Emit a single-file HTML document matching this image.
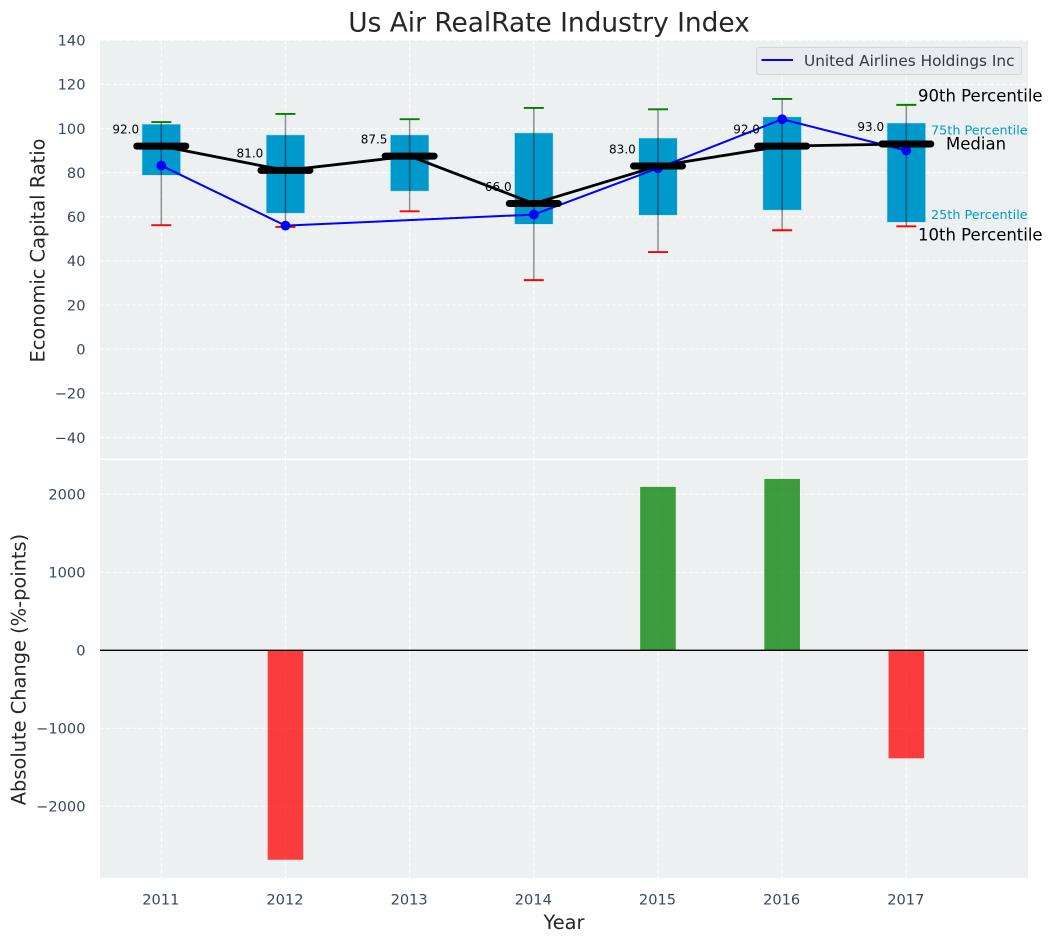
<!DOCTYPE html>
<html>
<head>
<meta charset="utf-8">
<title>Us Air RealRate Industry Index</title>
<style>
html,body{margin:0;padding:0;background:#fff;}
svg{display:block;font-family:"DejaVu Sans","Liberation Sans",sans-serif;}
</style>
</head>
<body>
<svg id="chart" xmlns="http://www.w3.org/2000/svg" width="1053" height="942" viewBox="0 0 1053 942"></svg>
<script>
const years = [2011, 2012, 2013, 2014, 2015, 2016, 2017];
const p90 = [102.9, 106.6, 104.2, 109.3, 108.7, 113.4, 110.7];
const p75 = [102, 97.1, 97.1, 98, 95.7, 105.3, 102.5];
const medians = [92, 81, 87.5, 66, 83, 92, 93];
const p25 = [78.8, 61.6, 71.6, 56.6, 60.7, 63, 57.5];
const p10 = [56.2, 55.4, 62.5, 31.3, 44, 53.9, 55.7];
const company = [83.2, 56, null, 61, 82, 104.2, 90];
const changes = [null, -2685, null, null, 2095, 2197, -1385];
const topTicks = [140, 120, 100, 80, 60, 40, 20, 0, -20, -40];
const bottomTicks = [2000, 1000, 0, -1000, -2000];
const seriesName = 'United Airlines Holdings Inc';

const svg = document.getElementById('chart');
const NS = 'http://www.w3.org/2000/svg';
const L = 100, R = 1028;
const T1 = 40, B1 = 458.5, T2 = 460, B2 = 878;

function xs(year) { return 161.3 + (year - 2011) * 124.17; }
function y1(v) { return 349.2 - v * 2.207; }
function y2(v) { return 650.3 - v * 0.078; }

function mk(tag, attrs) {
  const el = document.createElementNS(NS, tag);
  for (const k in attrs) el.setAttribute(k, attrs[k]);
  return el;
}
function txt(el, s) { el.textContent = s; return el; }
function fmtTick(v) { return v < 0 ? '\u2212' + Math.abs(v) : String(v); }

/* panels */
const panelTop = mk('rect', {x: L, y: T1, width: R - L, height: B1 - T1, fill: '#ecf0f1'});


svg.appendChild(panelTop);

const panelBottom = mk('rect', {x: L, y: T2, width: R - L, height: B2 - T2, fill: '#ecf0f1'});


svg.appendChild(panelBottom);

const gridStyle = {stroke: '#ffffff', 'stroke-width': 1.2, 'stroke-dasharray': '4.4 2', 'stroke-opacity': 0.85};

/* vertical grid */
years.forEach(function (yr) {
  [[T1, B1], [T2, B2]].forEach(function (range) {
    const g = mk('line', Object.assign({x1: xs(yr), x2: xs(yr), y1: range[0], y2: range[1]}, gridStyle));
    
    
    svg.appendChild(g);
  });
  const t = txt(mk('text', {x: xs(yr) - 0.5, y: 904.5, 'text-anchor': 'middle', 'font-size': 14.6, fill: '#34495e'}), String(yr));
  
  
  svg.appendChild(t);
});

/* top grid + ticks */
topTicks.forEach(function (v) {
  const g = mk('line', Object.assign({x1: L, x2: R, y1: y1(v), y2: y1(v)}, gridStyle));
  
  
  svg.appendChild(g);
  const t = txt(mk('text', {x: 85.5, y: y1(v) + 5.3, 'text-anchor': 'end', 'font-size': 14.6, fill: '#34495e'}), fmtTick(v));
  
  
  svg.appendChild(t);
});

/* bottom grid + ticks */
bottomTicks.forEach(function (v) {
  const g = mk('line', Object.assign({x1: L, x2: R, y1: y2(v), y2: y2(v)}, gridStyle));
  
  
  svg.appendChild(g);
  const t = txt(mk('text', {x: 85.5, y: y2(v) + 5.3, 'text-anchor': 'end', 'font-size': 14.6, fill: '#34495e'}), fmtTick(v));
  
  
  svg.appendChild(t);
});

/* boxes */
years.forEach(function (yr, i) {
  const box = mk('rect', {x: xs(yr) - 19.3, y: y1(p75[i]), width: 38.6, height: y1(p25[i]) - y1(p75[i]), fill: '#0099cc', stroke: '#bfe6f2', 'stroke-width': 0.6});
  
  
  svg.appendChild(box);
});

/* whiskers + caps */
years.forEach(function (yr, i) {
  const w = mk('line', {x1: xs(yr), x2: xs(yr), y1: y1(p90[i]), y2: y1(p10[i]), stroke: '#000', 'stroke-opacity': 0.42, 'stroke-width': 1.5});
  
  
  svg.appendChild(w);
  const c1 = mk('line', {x1: xs(yr) - 10, x2: xs(yr) + 10, y1: y1(p90[i]), y2: y1(p90[i]), stroke: '#008000', 'stroke-width': 1.9});
  
  
  svg.appendChild(c1);
  const c2 = mk('line', {x1: xs(yr) - 10, x2: xs(yr) + 10, y1: y1(p10[i]), y2: y1(p10[i]), stroke: '#ff0000', 'stroke-width': 1.9});
  
  
  svg.appendChild(c2);
});

/* company line */
const companyPts = years.map(function (yr, i) {
  return company[i] === null ? null : xs(yr) + ',' + y1(company[i]);
}).filter(Boolean).join(' ');
const companyLine = mk('polyline', {points: companyPts, fill: 'none', stroke: '#0000ff', 'stroke-width': 2});


svg.appendChild(companyLine);

years.forEach(function (yr, i) {
  if (company[i] === null) return;
  const p = mk('circle', {cx: xs(yr), cy: y1(company[i]), r: 4.9, fill: '#0000ff'});
  
  
  svg.appendChild(p);
});

/* median line + bars */
const medianLine = mk('polyline', {points: years.map(function (yr, i) { return xs(yr) + ',' + y1(medians[i]); }).join(' '), fill: 'none', stroke: '#000', 'stroke-width': 2.8});


svg.appendChild(medianLine);

years.forEach(function (yr, i) {
  const m = mk('line', {x1: xs(yr) - 24.5, x2: xs(yr) + 24.5, y1: y1(medians[i]), y2: y1(medians[i]), stroke: '#000', 'stroke-width': 7, 'stroke-linecap': 'round'});
  
  
  svg.appendChild(m);
  const t = txt(mk('text', {x: xs(yr) - 22.2, y: y1(medians[i]) - 12.7, 'text-anchor': 'end', 'font-size': 12, fill: '#000'}), medians[i].toFixed(1));
  
  
  svg.appendChild(t);
});

/* percentile annotations, anchored to the last year */
const last = years.length - 1;
const lastX = xs(years[last]);

const a90 = txt(mk('text', {x: lastX + 11.7, y: y1(p90[last]) - 3.2, 'font-size': 16.5, fill: '#000'}), '90th Percentile');


svg.appendChild(a90);

const a75 = txt(mk('text', {x: lastX + 24.7, y: y1(p75[last]) + 11.7, 'font-size': 12.8, fill: '#0099cc'}), '75th Percentile');


svg.appendChild(a75);

const aMed = txt(mk('text', {x: lastX + 39.7, y: y1(medians[last]) + 5.8, 'font-size': 16.5, fill: '#000'}), 'Median');


svg.appendChild(aMed);

const a25 = txt(mk('text', {x: lastX + 24.7, y: y1(p25[last]) - 3.3, 'font-size': 12.8, fill: '#0099cc'}), '25th Percentile');


svg.appendChild(a25);

const a10 = txt(mk('text', {x: lastX + 11.7, y: y1(p10[last]) + 14.2, 'font-size': 16.5, fill: '#000'}), '10th Percentile');


svg.appendChild(a10);

/* change bars */
years.forEach(function (yr, i) {
  const v = changes[i];
  if (v === null) return;
  const top = Math.min(y2(v), y2(0));
  const h = Math.abs(y2(v) - y2(0));
  const b = mk('rect', {x: xs(yr) - 17.8, y: top, width: 35.6, height: h, fill: v >= 0 ? '#008000' : '#ff0000', 'fill-opacity': 0.75});
  
  
  svg.appendChild(b);
});

const zero = mk('line', {x1: L, x2: R, y1: y2(0), y2: y2(0), stroke: '#000', 'stroke-width': 1.4});


svg.appendChild(zero);

/* title + axis titles */
const title = txt(mk('text', {x: 549, y: 31.5, 'text-anchor': 'middle', 'font-size': 26.4, fill: '#262626'}), 'Us Air RealRate Industry Index');


svg.appendChild(title);

const xTitle = txt(mk('text', {x: 564, y: 929, 'text-anchor': 'middle', 'font-size': 19.4, fill: '#262626'}), 'Year');


svg.appendChild(xTitle);

const yTitle1 = txt(mk('text', {x: 0, y: 0, transform: 'translate(44.5,250.5) rotate(-90)', 'text-anchor': 'middle', 'font-size': 19.4, fill: '#262626'}), 'Economic Capital Ratio');


svg.appendChild(yTitle1);

const yTitle2 = txt(mk('text', {x: 0, y: 0, transform: 'translate(25.5,669.5) rotate(-90)', 'text-anchor': 'middle', 'font-size': 19.4, fill: '#262626'}), 'Absolute Change (%-points)');


svg.appendChild(yTitle2);

/* legend */
const legendBox = mk('rect', {x: 756.5, y: 47.5, width: 265, height: 27, rx: 2.5, fill: '#eaebf0', stroke: '#d3d5d9', 'stroke-width': 1});


svg.appendChild(legendBox);

const legendLine = mk('line', {x1: 761.5, x2: 793, y1: 60, y2: 60, stroke: '#0000ff', 'stroke-width': 2});


svg.appendChild(legendLine);

const legendText = txt(mk('text', {x: 804, y: 66, 'font-size': 15.3, fill: '#34383c'}), seriesName);


svg.appendChild(legendText);
</script>
</body>
</html>
